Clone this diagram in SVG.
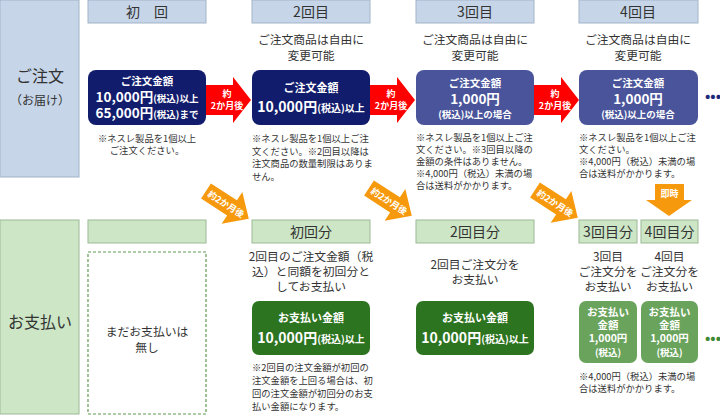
<svg xmlns="http://www.w3.org/2000/svg" width="720" height="415" viewBox="0 0 720 415">
<style>
text{font-family:"Noto Sans CJK JP","Noto Sans",sans-serif;fill:#333}
.hd{font-size:14px;text-anchor:middle}
.t12{font-size:11.8px;text-anchor:middle}
.note{font-size:9.3px}
.w{fill:#fff;font-weight:bold;text-anchor:middle}
.bluehd{fill:#c6d5e8;stroke:#a3b3c8;stroke-width:1}
.greenhd{fill:#cce6c6;stroke:#9cba96;stroke-width:1}
.navy{fill:#111c6c}
.mid{fill:#4a549b}
.dg{fill:#2d7420}
.lg{fill:#6aa35c}
.red{fill:#ff0000}
.org{fill:#f7990c}
</style>
<defs>
<polygon id="ra" points="0,-15 27,-15 27,-23 45,0 27,23 27,15 0,15"/>
<polygon id="oa" points="0,-9 31,-9 31,-19 51,0 31,19 31,9 0,9"/>
</defs>

<g id="order-label">
<rect x="0" y="0" width="79" height="177" class="bluehd"/>
<text x="40" y="82" text-anchor="middle" font-size="16">ご注文</text>
<text x="40" y="105" text-anchor="middle" font-size="12">（お届け）</text>
</g>
<g id="pay-label">
<rect x="0" y="220" width="79" height="194" class="greenhd"/>
<text x="40" y="328" text-anchor="middle" font-size="16">お支払い</text>
</g>

<g id="hdr1"><rect x="88" y="0" width="118" height="23" class="bluehd"/><text x="147" y="17" class="hd">初　回</text></g>
<g id="hdr2"><rect x="252" y="0" width="118" height="23" class="bluehd"/><text x="311" y="17" class="hd">2回目</text></g>
<g id="hdr3"><rect x="416" y="0" width="118" height="23" class="bluehd"/><text x="475" y="17" class="hd">3回目</text></g>
<g id="hdr4"><rect x="579" y="0" width="119" height="23" class="bluehd"/><text x="638" y="17" class="hd">4回目</text></g>

<g id="free2"><text x="311" y="44" class="t12">ご注文商品は自由に</text><text x="311" y="60" class="t12">変更可能</text></g>
<g id="free3"><text x="475" y="44" class="t12">ご注文商品は自由に</text><text x="475" y="60" class="t12">変更可能</text></g>
<g id="free4"><text x="638" y="44" class="t12">ご注文商品は自由に</text><text x="638" y="60" class="t12">変更可能</text></g>

<g id="order1">
<rect x="88" y="70" width="118" height="55" rx="8" class="navy"/>
<text x="147" y="85" class="w" font-size="10.5">ご注文金額</text>
<text x="147" y="102" class="w" font-size="13.5">10,000円<tspan font-size="9.5">(税込)以上</tspan></text>
<text x="147" y="118" class="w" font-size="13.5">65,000円<tspan font-size="9.5">(税込)まで</tspan></text>
</g>
<g id="order2">
<rect x="252" y="70" width="118" height="55" rx="8" class="navy"/>
<text x="311" y="92" class="w" font-size="11">ご注文金額</text>
<text x="311" y="112" class="w" font-size="14">10,000円<tspan font-size="10">(税込)以上</tspan></text>
</g>
<g id="order3">
<rect x="416" y="70" width="118" height="55" rx="8" class="mid"/>
<text x="475" y="87" class="w" font-size="10.5">ご注文金額</text>
<text x="475" y="104" class="w" font-size="13.5">1,000円</text>
<text x="475" y="118" class="w" font-size="9.5">(税込)以上の場合</text>
</g>
<g id="order4">
<rect x="579" y="70" width="119" height="55" rx="8" class="mid"/>
<text x="638" y="87" class="w" font-size="10.5">ご注文金額</text>
<text x="638" y="104" class="w" font-size="13.5">1,000円</text>
<text x="638" y="118" class="w" font-size="9.5">(税込)以上の場合</text>
</g>
<text x="713" y="101" text-anchor="middle" font-size="14" font-weight="bold" style="fill:#1c2a78">•••</text>

<g id="notes-order">
<text x="147" y="142" class="note" text-anchor="middle">※ネスレ製品を1個以上</text>
<text x="147" y="154" class="note" text-anchor="middle">ご注文ください。</text>
<text x="252" y="142" class="note">※ネスレ製品を1個以上ご注</text>
<text x="252" y="154.5" class="note">文ください。※2回目以降は</text>
<text x="252" y="167" class="note">注文商品の数量制限はありま</text>
<text x="252" y="179.5" class="note">せん。</text>
<text x="416" y="141" class="note">※ネスレ製品を1個以上ご注</text>
<text x="416" y="153" class="note">文ください。※3回目以降の</text>
<text x="416" y="165" class="note">金額の条件はありません。</text>
<text x="416" y="177" class="note">※4,000円（税込）未満の場</text>
<text x="416" y="189" class="note">合は送料がかかります。</text>
<text x="579" y="141" class="note">※ネスレ製品を1個以上ご注</text>
<text x="579" y="153" class="note">文ください。</text>
<text x="579" y="165" class="note">※4,000円（税込）未満の場</text>
<text x="579" y="177" class="note">合は送料がかかります。</text>
</g>

<g id="connectors">
<g transform="translate(206,100)"><use href="#ra" class="red"/><text x="21" y="-3" class="w" font-size="9">約</text><text x="21" y="9" class="w" font-size="9">2か月後</text></g>
<g transform="translate(370,100)"><use href="#ra" class="red"/><text x="21" y="-3" class="w" font-size="9">約</text><text x="21" y="9" class="w" font-size="9">2か月後</text></g>
<g transform="translate(534,100)"><use href="#ra" class="red"/><text x="21" y="-3" class="w" font-size="9">約</text><text x="21" y="9" class="w" font-size="9">2か月後</text></g>
<g transform="translate(206,191) rotate(33)"><use href="#oa" class="org"/><text x="24" y="3.5" class="w" font-size="9">約2か月後</text></g>
<g transform="translate(369,188) rotate(33)"><use href="#oa" class="org"/><text x="24" y="3.5" class="w" font-size="9">約2か月後</text></g>
<g transform="translate(535,190) rotate(33)"><use href="#oa" class="org"/><text x="24" y="3.5" class="w" font-size="9">約2か月後</text></g>
<g><polygon points="655,184 684,184 684,200 692,200 669,216 646,200 655,200" class="org"/><text x="669.5" y="197" class="w" font-size="9">即時</text></g>
</g>

<g id="phdr1"><rect x="88" y="220" width="118" height="23" class="greenhd"/></g>
<g id="phdr2"><rect x="252" y="220" width="118" height="23" class="greenhd"/><text x="311" y="237" class="hd">初回分</text></g>
<g id="phdr3"><rect x="416" y="220" width="118" height="23" class="greenhd"/><text x="475" y="237" class="hd">2回目分</text></g>
<g id="phdr4"><rect x="579" y="220" width="58" height="23" class="greenhd"/><text x="608" y="236.5" class="hd" font-size="13">3回目分</text></g>
<g id="phdr5"><rect x="641" y="220" width="57" height="23" class="greenhd"/><text x="669.5" y="236.5" class="hd" font-size="13">4回目分</text></g>

<g id="nopay">
<rect x="88" y="252" width="118" height="162" fill="none" stroke="#5f9a52" stroke-width="1.2" stroke-dasharray="3,2"/>
<text x="147" y="336" class="t12">まだお支払いは</text>
<text x="147" y="352" class="t12">無し</text>
</g>

<g id="pay1">
<text x="311" y="261" class="t12">2回目のご注文金額（税</text>
<text x="311" y="276" class="t12">込）と同額を初回分と</text>
<text x="311" y="291" class="t12">してお支払い</text>
<rect x="252" y="301" width="118" height="54" rx="7" class="dg"/>
<text x="311" y="322" class="w" font-size="11">お支払い金額</text>
<text x="311" y="343" class="w" font-size="14">10,000円<tspan font-size="10">(税込)以上</tspan></text>
<text x="252" y="371" class="note">※2回目の注文金額が初回の</text>
<text x="252" y="384" class="note">注文金額を上回る場合は、初</text>
<text x="252" y="397" class="note">回の注文金額が初回分のお支</text>
<text x="252" y="410" class="note">払い金額になります。</text>
</g>

<g id="pay2">
<text x="475" y="269" class="t12">2回目ご注文分を</text>
<text x="475" y="284" class="t12">お支払い</text>
<rect x="416" y="301" width="118" height="54" rx="7" class="dg"/>
<text x="475" y="322" class="w" font-size="11">お支払い金額</text>
<text x="475" y="343" class="w" font-size="14">10,000円<tspan font-size="10">(税込)以上</tspan></text>
</g>

<g id="pay3">
<text x="608" y="261" class="t12">3回目</text>
<text x="608" y="276" class="t12">ご注文分を</text>
<text x="608" y="291" class="t12">お支払い</text>
<rect x="579" y="301" width="58" height="62" rx="7" class="lg"/>
<text x="608" y="316" class="w" font-size="10.5">お支払い</text>
<text x="608" y="329" class="w" font-size="10.5">金額</text>
<text x="608" y="342" class="w" font-size="10.5">1,000円</text>
<text x="608" y="356" class="w" font-size="9.5">(税込)</text>
</g>
<g id="pay4">
<text x="669.5" y="261" class="t12">4回目</text>
<text x="669.5" y="276" class="t12">ご注文分を</text>
<text x="669.5" y="291" class="t12">お支払い</text>
<rect x="641" y="301" width="57" height="62" rx="7" class="lg"/>
<text x="669.5" y="316" class="w" font-size="10.5">お支払い</text>
<text x="669.5" y="329" class="w" font-size="10.5">金額</text>
<text x="669.5" y="342" class="w" font-size="10.5">1,000円</text>
<text x="669.5" y="356" class="w" font-size="9.5">(税込)</text>
</g>
<text x="713" y="343" text-anchor="middle" font-size="14" font-weight="bold" style="fill:#3f8a34">•••</text>
<g id="note-pay"><text x="579" y="380" class="note">※4,000円（税込）未満の場</text><text x="579" y="392" class="note">合は送料がかかります。</text></g>
</svg>
